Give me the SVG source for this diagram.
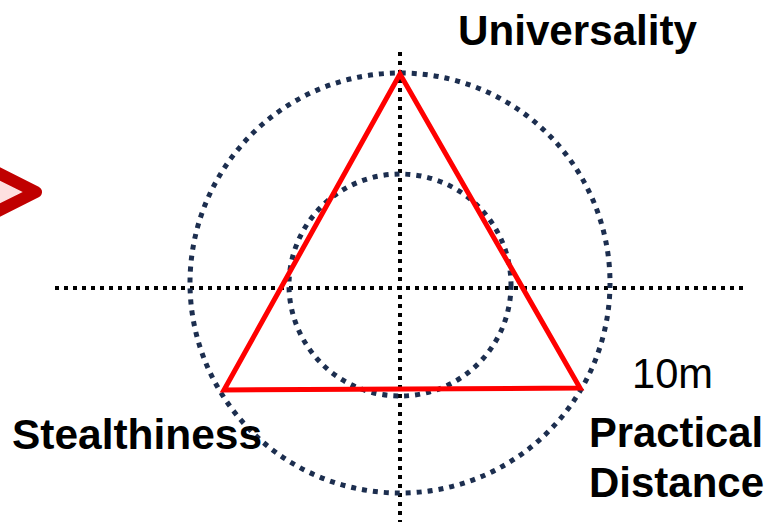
<svg xmlns="http://www.w3.org/2000/svg" width="768" height="522" viewBox="0 0 768 522">
<style>
.axis{stroke:#000;stroke-width:4;stroke-dasharray:4 5;fill:none}
.ring{stroke:#1c2e4f;stroke-width:5;stroke-dasharray:5 6;fill:none}
.lbl{font-family:"Liberation Sans",Arial,sans-serif;font-weight:bold;font-size:42px;fill:#000}
.val{font-family:"Liberation Sans",Arial,sans-serif;font-size:42px;fill:#000}
</style>
<rect width="768" height="522" fill="#fff"/>
<g id="arrow">
<polyline points="-4,172 36,192 -4,212" fill="#fde0e0" stroke="#c00000" stroke-width="12" stroke-linejoin="round"/>
</g>
<g id="connectors">
<line class="axis" x1="400" y1="52" x2="400" y2="522"/>
<line class="axis" x1="55" y1="288" x2="745" y2="288"/>
</g>
<g id="outer-circle"><circle class="ring" cx="400" cy="283" r="210"/></g>
<g id="inner-circle"><circle class="ring" cx="400" cy="285" r="111"/></g>
<g id="triangle"><polygon points="400,74 224,390 580,388" fill="none" stroke="#ff0000" stroke-width="5" stroke-linejoin="miter"/></g>
<g id="universality"><text class="lbl" x="458" y="45" textLength="239" lengthAdjust="spacingAndGlyphs">Universality</text></g>
<g id="stealthiness"><text class="lbl" x="12" y="449" textLength="250" lengthAdjust="spacingAndGlyphs">Stealthiness</text></g>
<g id="practical"><text class="lbl" x="589" y="447" textLength="174" lengthAdjust="spacingAndGlyphs">Practical</text><text class="lbl" x="589" y="497" textLength="175" lengthAdjust="spacingAndGlyphs">Distance</text></g>
<g id="dist-value"><text class="val" x="632" y="388" textLength="81" lengthAdjust="spacingAndGlyphs">10m</text></g>
</svg>
